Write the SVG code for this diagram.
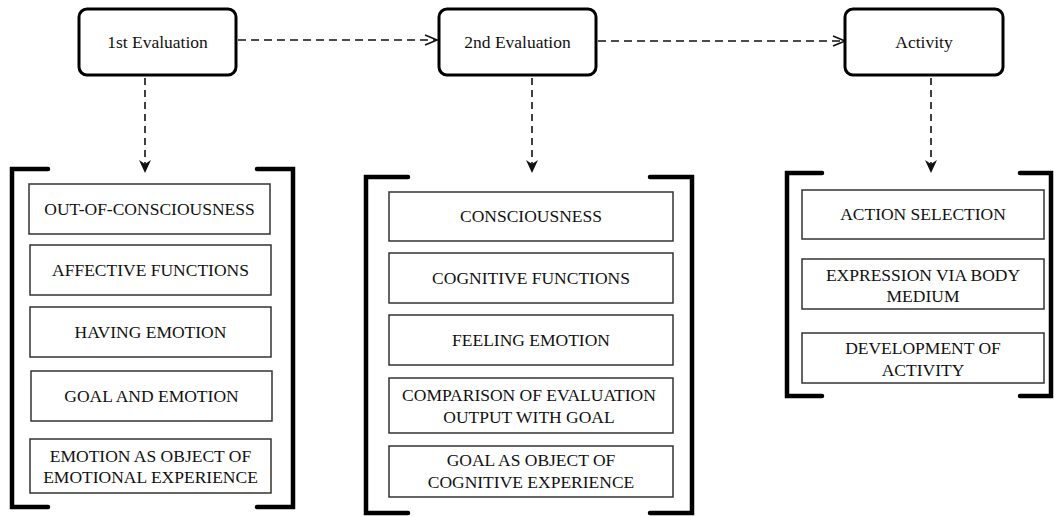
<svg xmlns="http://www.w3.org/2000/svg" width="1054" height="517" viewBox="0 0 1054 517">
  <style>
    .stage { fill: #ffffff; stroke: #000000; stroke-width: 3; }
    .item { fill: #ffffff; stroke: #333333; stroke-width: 1.5; }
    .bracket { fill: none; stroke: #000000; stroke-width: 4.5; stroke-linecap: round; stroke-linejoin: miter; }
    .flow { fill: none; stroke: #111111; stroke-width: 1.6; stroke-dasharray: 8 5; }
    .drop { fill: none; stroke: #111111; stroke-width: 1.6; stroke-dasharray: 7 5; }
    text { font-family: "Liberation Serif", "Times New Roman", serif; font-size: 17.5px; fill: #111111; text-anchor: middle; }
  </style>
  <defs>
    <marker id="chevron" viewBox="0 0 14 12" refX="13" refY="6" markerWidth="14" markerHeight="12" markerUnits="userSpaceOnUse" orient="auto">
      <polyline points="1,1 13,6 1,11" fill="none" stroke="#111111" stroke-width="1.6"/>
    </marker>
    <marker id="stealth" viewBox="0 0 14 14" refX="13" refY="7" markerWidth="14" markerHeight="14" markerUnits="userSpaceOnUse" orient="auto">
      <path d="M0,1 L13,7 L0,13 L4,7 z" fill="#111111"/>
    </marker>
  </defs>

  <rect width="1054" height="517" fill="#ffffff"/>

  <!-- connectors -->
  <g id="connectors">
    <line class="flow" x1="238" y1="40" x2="437" y2="40" marker-end="url(#chevron)"/>
    <line class="flow" x1="598" y1="41" x2="845" y2="41" marker-end="url(#chevron)"/>
    <line class="drop" x1="145" y1="78" x2="145" y2="173" marker-end="url(#stealth)"/>
    <line class="drop" x1="532" y1="78" x2="532" y2="173" marker-end="url(#stealth)"/>
    <line class="drop" x1="931" y1="78" x2="931" y2="173" marker-end="url(#stealth)"/>
  </g>

  <!-- stage headers -->
  <g id="eval1">
    <rect class="stage" x="79" y="9" width="157" height="66" rx="8"/>
    <text x="157.5" y="48">1st Evaluation</text>
  </g>
  <g id="eval2">
    <rect class="stage" x="439" y="9" width="157" height="66" rx="8"/>
    <text x="517.5" y="48">2nd Evaluation</text>
  </g>
  <g id="activity">
    <rect class="stage" x="845" y="9" width="158" height="66" rx="8"/>
    <text x="924" y="48">Activity</text>
  </g>

  <!-- first evaluation group -->
  <g id="eval1-group">
    <path class="bracket" d="M48,169 L12,169 L12,507 L48,507"/>
    <path class="bracket" d="M257,169 L293,169 L293,507 L257,507"/>
    <g id="out-of-consciousness">
      <rect class="item" x="29" y="184" width="241" height="50"/>
      <text x="149.5" y="215">OUT-OF-CONSCIOUSNESS</text>
    </g>
    <g id="affective-functions">
      <rect class="item" x="30" y="245" width="241" height="50"/>
      <text x="150.5" y="276">AFFECTIVE FUNCTIONS</text>
    </g>
    <g id="having-emotion">
      <rect class="item" x="30" y="307" width="241" height="50"/>
      <text x="150.5" y="338">HAVING EMOTION</text>
    </g>
    <g id="goal-and-emotion">
      <rect class="item" x="31" y="371" width="241" height="50"/>
      <text x="151.5" y="402">GOAL AND EMOTION</text>
    </g>
    <g id="emotion-as-object">
      <rect class="item" x="30" y="439" width="241" height="54"/>
      <text x="150.5" y="462">EMOTION AS OBJECT OF</text>
      <text x="150.5" y="483">EMOTIONAL EXPERIENCE</text>
    </g>
  </g>

  <!-- second evaluation group -->
  <g id="eval2-group">
    <path class="bracket" d="M408,177 L366,177 L366,513 L408,513"/>
    <path class="bracket" d="M650,177 L692,177 L692,513 L650,513"/>
    <g id="consciousness">
      <rect class="item" x="389" y="192" width="284" height="49"/>
      <text x="531" y="222">CONSCIOUSNESS</text>
    </g>
    <g id="cognitive-functions">
      <rect class="item" x="389" y="253" width="284" height="50"/>
      <text x="531" y="284">COGNITIVE FUNCTIONS</text>
    </g>
    <g id="feeling-emotion">
      <rect class="item" x="389" y="315" width="284" height="50"/>
      <text x="531" y="346">FEELING EMOTION</text>
    </g>
    <g id="comparison">
      <rect class="item" x="389" y="378" width="284" height="55"/>
      <text x="529" y="401">COMPARISON OF EVALUATION</text>
      <text x="529" y="423">OUTPUT WITH GOAL</text>
    </g>
    <g id="goal-as-object">
      <rect class="item" x="389" y="446" width="284" height="51"/>
      <text x="531" y="466">GOAL AS OBJECT OF</text>
      <text x="531" y="488">COGNITIVE EXPERIENCE</text>
    </g>
  </g>

  <!-- activity group -->
  <g id="activity-group">
    <path class="bracket" d="M822,173 L787,173 L787,396 L822,396"/>
    <path class="bracket" d="M1020,173 L1051,173 L1051,396 L1020,396"/>
    <g id="action-selection">
      <rect class="item" x="802" y="190" width="242" height="49"/>
      <text x="923" y="220">ACTION SELECTION</text>
    </g>
    <g id="expression">
      <rect class="item" x="802" y="259" width="242" height="50"/>
      <text x="923" y="281">EXPRESSION VIA BODY</text>
      <text x="923" y="302">MEDIUM</text>
    </g>
    <g id="development">
      <rect class="item" x="802" y="333" width="242" height="50"/>
      <text x="923" y="354">DEVELOPMENT OF</text>
      <text x="923" y="376">ACTIVITY</text>
    </g>
  </g>
</svg>
